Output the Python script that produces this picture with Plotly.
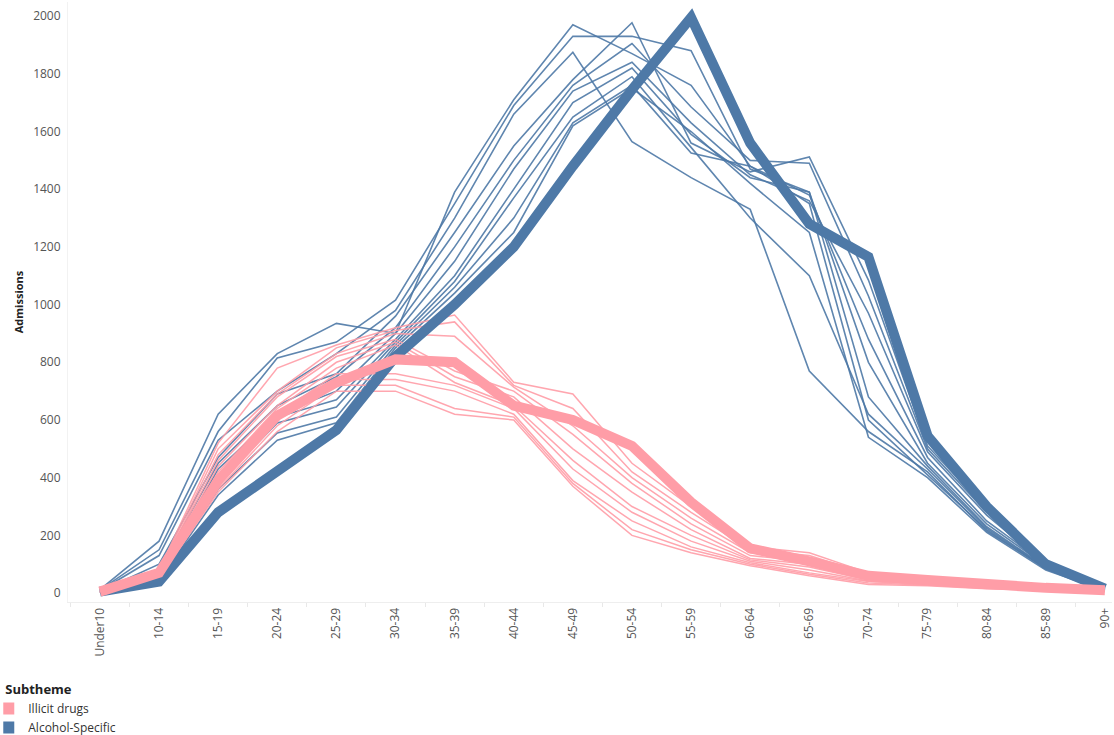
import plotly.graph_objects as go

ages = ["Under10", "10-14", "15-19", "20-24", "25-29", "30-34", "35-39", "40-44", "45-49",
        "50-54", "55-59", "60-64", "65-69", "70-74", "75-79", "80-84", "85-89", "90+"]

# Alcohol-Specific: highlighted series and the other series
alcohol_main = [5, 40, 280, 420, 565, 820, 1000, 1200, 1480, 1745, 1995, 1560, 1280, 1165, 545, 300, 100, 15]
alcohol_b1 = [12, 180, 620, 830, 935, 900, 1390, 1710, 1970, 1870, 1760, 1480, 1380, 880, 470, 250, 100, 15]
alcohol_b2 = [10, 150, 560, 815, 870, 1015, 1350, 1690, 1930, 1930, 1880, 1470, 1390, 800, 450, 240, 95, 12]
alcohol_b3 = [8, 130, 530, 700, 830, 980, 1300, 1660, 1875, 1565, 1440, 1330, 770, 560, 420, 215, 85, 10]
alcohol_b4 = [6, 100, 470, 690, 760, 960, 1250, 1550, 1780, 1977, 1560, 1460, 1512, 1085, 510, 290, 110, 18]
alcohol_b5 = [5, 80, 450, 650, 750, 920, 1200, 1500, 1760, 1905, 1685, 1500, 1490, 1030, 500, 280, 105, 15]
alcohol_b6 = [4, 70, 430, 620, 700, 900, 1150, 1470, 1740, 1840, 1630, 1450, 1360, 970, 490, 270, 100, 14]
alcohol_b7 = [3, 60, 400, 610, 670, 880, 1100, 1400, 1700, 1820, 1590, 1440, 1390, 680, 440, 230, 90, 12]
alcohol_b8 = [2, 55, 380, 590, 645, 870, 1080, 1370, 1650, 1790, 1545, 1300, 1100, 620, 430, 225, 88, 10]
alcohol_b9 = [1, 50, 360, 555, 610, 860, 1060, 1300, 1630, 1760, 1525, 1480, 1350, 600, 410, 220, 85, 10]
alcohol_b10 = [0, 45, 340, 530, 590, 850, 1040, 1250, 1620, 1750, 1600, 1420, 1250, 540, 400, 210, 80, 8]

# Illicit drugs: highlighted series and the other series
drugs_main = [5, 70, 390, 615, 730, 810, 800, 650, 600, 510, 315, 155, 110, 60, 45, 30, 18, 10]
drugs_p1 = [5, 80, 520, 780, 860, 920, 964, 731, 690, 450, 300, 160, 140, 70, 50, 35, 20, 10]
drugs_p2 = [5, 75, 500, 700, 850, 910, 940, 720, 640, 420, 280, 150, 130, 65, 48, 32, 18, 9]
drugs_p3 = [4, 70, 480, 690, 830, 900, 890, 714, 580, 400, 260, 140, 120, 60, 45, 30, 17, 8]
drugs_p4 = [4, 70, 460, 680, 820, 880, 770, 700, 550, 380, 240, 130, 110, 55, 40, 28, 16, 8]
drugs_p5 = [3, 65, 440, 650, 800, 870, 750, 680, 500, 350, 220, 120, 100, 50, 38, 25, 15, 7]
drugs_p6 = [3, 60, 420, 640, 780, 860, 730, 650, 460, 300, 200, 115, 90, 45, 35, 22, 14, 7]
drugs_p7 = [2, 60, 400, 620, 760, 760, 720, 640, 430, 280, 180, 110, 80, 42, 33, 20, 12, 6]
drugs_p8 = [2, 55, 380, 600, 740, 740, 700, 620, 390, 250, 160, 105, 70, 40, 30, 18, 11, 5]
drugs_p9 = [1, 50, 360, 580, 720, 720, 640, 610, 380, 220, 150, 100, 65, 35, 28, 16, 10, 5]
drugs_p10 = [1, 50, 350, 560, 700, 700, 620, 600, 370, 200, 140, 95, 60, 30, 25, 15, 10, 5]

y_ticks = [0, 200, 400, 600, 800, 1000, 1200, 1400, 1600, 1800, 2000]

BLUE = "#4e79a7"
PINK = "#ff9da7"

alcohol_thin = [alcohol_b1, alcohol_b2, alcohol_b3, alcohol_b4, alcohol_b5,
                alcohol_b6, alcohol_b7, alcohol_b8, alcohol_b9, alcohol_b10]
drugs_thin = [drugs_p1, drugs_p2, drugs_p3, drugs_p4, drugs_p5,
              drugs_p6, drugs_p7, drugs_p8, drugs_p9, drugs_p10]

fig = go.Figure()

for s in alcohol_thin:
    fig.add_trace(go.Scatter(x=ages, y=s, mode="lines", showlegend=False,
                             line=dict(color=BLUE, width=1.6), opacity=0.9,
                             hoverinfo="skip"))
for s in drugs_thin:
    fig.add_trace(go.Scatter(x=ages, y=s, mode="lines", showlegend=False,
                             line=dict(color=PINK, width=1.5), opacity=0.9,
                             hoverinfo="skip"))

fig.add_trace(go.Scatter(x=ages, y=alcohol_main, mode="lines", showlegend=False,
                         line=dict(color=BLUE, width=10)))
fig.add_trace(go.Scatter(x=ages, y=drugs_main, mode="lines", showlegend=False,
                         line=dict(color=PINK, width=10)))

# legend entries
fig.add_trace(go.Scatter(x=[None], y=[None], mode="markers", name="Illicit drugs",
                         marker=dict(symbol="square", size=12, color=PINK)))
fig.add_trace(go.Scatter(x=[None], y=[None], mode="markers", name="Alcohol-Specific",
                         marker=dict(symbol="square", size=12, color=BLUE)))

fig.update_layout(
    width=1114, height=735,
    margin=dict(l=68, r=2, t=2, b=133, autoexpand=False),
    plot_bgcolor="white", paper_bgcolor="white",
    font=dict(family="Open Sans", size=12, color="#555555"),
    legend=dict(
        title=dict(text="<b>Subtheme</b>", font=dict(size=13, color="#222222")),
        x=-0.062, y=-0.125, xanchor="left", yanchor="top",
        itemwidth=30, tracegroupgap=0, indentation=-15,
        font=dict(size=12, color="#333333"),
        bgcolor="rgba(0,0,0,0)",
    ),
    xaxis=dict(
        type="category", categoryorder="array", categoryarray=ages,
        range=[-0.54, 17.12],
        tickangle=-90, tickfont=dict(size=12, color="#555555"),
        showgrid=False, zeroline=False,
        showline=True, linecolor="#eeeeee", linewidth=1,
        ticks="outside", tickson="boundaries", ticklen=4, tickcolor="#e8e8e8",
        automargin=False, ticklabeloverflow="allow",
    ),
    yaxis=dict(
        range=[-31, 2049],
        tickvals=y_ticks, ticktext=[str(v) for v in y_ticks],
        tickfont=dict(size=12, color="#555555"),
        showgrid=False, zeroline=False,
        showline=True, linecolor="#f2f2f2", linewidth=1,
        ticks="", ticklabelstandoff=4, automargin=False,
        title=dict(text="<b>Admissions</b>", font=dict(size=11, color="#222222"), standoff=7),
    ),
)

fig.write_html("out.html", config={"displayModeBar": False},
               post_script="document.body.style.margin='0';")
